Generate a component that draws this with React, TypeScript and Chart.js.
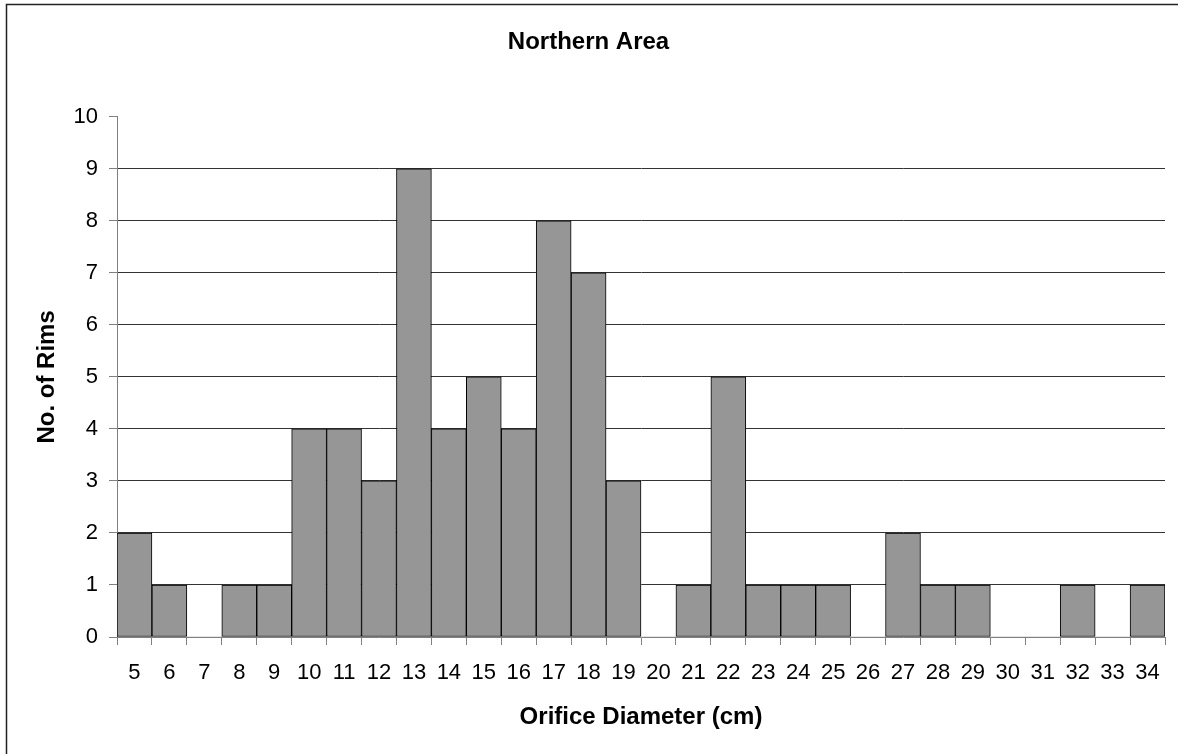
import React, { useEffect, useRef } from "react";
import { Chart, registerables } from "chart.js";

Chart.register(...registerables);

const categories = ["5","6","7","8","9","10","11","12","13","14","15","16","17","18","19","20","21","22","23","24","25","26","27","28","29","30","31","32","33","34"];
const rimCounts = [2,1,0,1,1,4,4,3,9,4,5,4,8,7,3,0,1,5,1,1,1,0,2,1,1,0,0,1,0,1];
const yTicks = [0,1,2,3,4,5,6,7,8,9,10];

const chartTitle = "Northern Area";
const xTitle = "Orifice Diameter (cm)";
const yTitle = "No. of Rims";

const W = 1178;
const H = 754;
const FONT = "'Liberation Sans', Arial, sans-serif";

const frame = {
  id: "frame",
  afterDraw(chart: any) {
    const ctx = chart.ctx;
    ctx.save();
    ctx.strokeStyle = "#222";
    ctx.lineWidth = 1.5;
    ctx.strokeRect(6.5, 4.5, W + 20, H + 20);
    ctx.restore();
  },
};

export default function App() {
  const ref = useRef<HTMLCanvasElement | null>(null);
  useEffect(() => {
    if (!ref.current) return;
    const chart = new Chart(ref.current, {
      type: "bar",
      data: {
        labels: categories,
        datasets: [
          {
            data: rimCounts,
            backgroundColor: "#969696",
            borderColor: "#000",
            borderWidth: (c: any) => (c.raw === 0 ? 0 : 1),
            borderSkipped: false,
            barPercentage: 1,
            categoryPercentage: 1,
          },
        ],
      },
      options: {
        responsive: false,
        animation: false,
        layout: { padding: { left: 12, right: 13, top: 0, bottom: 0 } },
        plugins: {
          legend: { display: false },
          tooltip: { enabled: false },
          title: {
            display: true,
            text: chartTitle,
            color: "#000",
            font: { family: FONT, size: 24, weight: "bold" },
            padding: { top: 28, bottom: 60 },
          },
        },
        scales: {
          x: {
            offset: true,
            grid: {
              offset: true,
              drawOnChartArea: false,
              drawTicks: true,
              tickLength: 8,
              tickColor: "#808080",
            },
            border: { display: true, color: "#808080", width: 1 },
            ticks: {
              color: "#000",
              font: { family: FONT, size: 22 },
              padding: 15,
              maxRotation: 0,
              autoSkip: false,
            },
            title: {
              display: true,
              text: xTitle,
              color: "#000",
              font: { family: FONT, size: 24, weight: "bold" },
              padding: { top: 0, bottom: 22 },
            },
            afterFit: (s: any) => {
              s.height = 117;
            },
          },
          y: {
            min: 0,
            max: 10,
            afterBuildTicks: (s: any) => {
              s.ticks = yTicks.map((v) => ({ value: v }));
            },
            grid: {
              color: (c: any) => (c.tick && (c.tick.value === 10 || c.tick.value === 0) ? "rgba(0,0,0,0)" : "#333"),
              tickColor: "#808080",
              tickLength: 8,
              drawTicks: true,
            },
            border: { display: true, color: "#808080", width: 1 },
            ticks: {
              color: "#000",
              font: { family: FONT, size: 22 },
              padding: 11,
              stepSize: 1,
            },
            title: {
              display: true,
              text: yTitle,
              color: "#000",
              font: { family: FONT, size: 24, weight: "bold" },
              padding: { top: 21, bottom: 0 },
            },
            afterFit: (s: any) => {
              s.width = 105;
            },
          },
        },
      },
      plugins: [frame],
    } as any);
    return () => chart.destroy();
  }, []);
  return (
    <div style={{ position: "fixed", left: 0, top: 0, width: W, height: H, background: "#fff" }}>
      <canvas ref={ref} width={W} height={H} style={{ display: "block" }} />
    </div>
  );
}
